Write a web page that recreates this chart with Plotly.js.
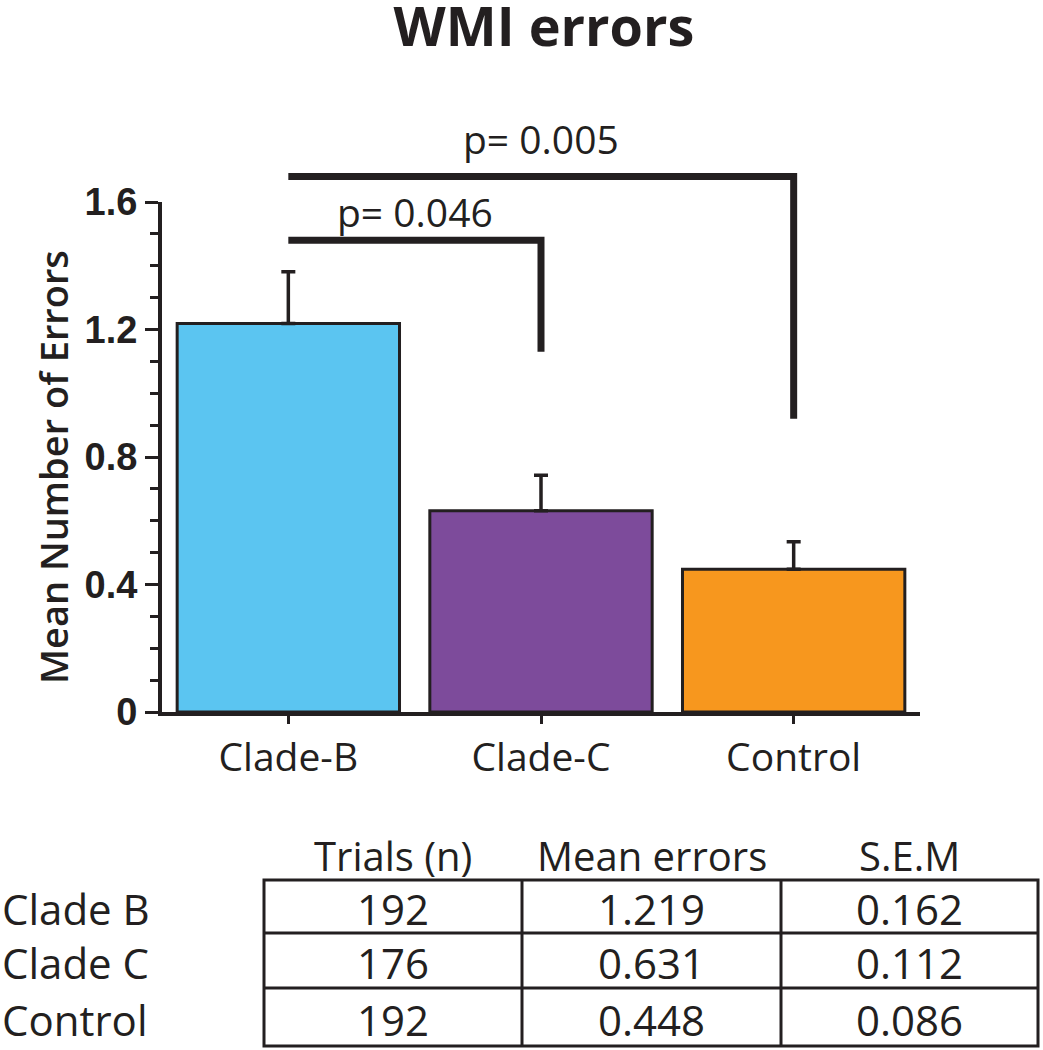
<!DOCTYPE html>
<html>
<head>
<meta charset="utf-8">
<script src="https://cdn.plot.ly/plotly-3.0.1.min.js"></script>
<style>body{margin:0;background:#fff}</style>
</head>
<body>
<div id="wmi" style="width:1043px;height:1050px"></div>
<script>
// groups and the values shown in the table
var groups = ['Clade-B', 'Clade-C', 'Control'];
var rowNames = ['Clade B', 'Clade C', 'Control'];
var trials = [192, 176, 192];
var meanErrors = [1.219, 0.631, 0.448];
var sem = [0.162, 0.112, 0.086];
var colHeads = ['Trials (n)', 'Mean errors', 'S.E.M'];
var barColors = ['#5bc5f1', '#7d4b9b', '#f7971e'];

// significance brackets, from group brA to group brB
var brA = [0, 0];
var brB = [1, 2];
var brTop = [1.48, 1.68];
var brDrop = [1.13, 0.92];
var brLabelY = [1.57, 1.80];
var pVals = ['0.046', '0.005'];

var ink = '#231f20';
var sans = 'Open Sans, sans-serif';

// page geometry (px) -> paper helpers, used for the table under the plot
var W = 1043, H = 1050;
var M = {l: 162, r: 123, t: 202, b: 338, pad: 0};
var plotW = W - M.l - M.r, plotH = H - M.t - M.b;
var yMax = 1.6;
function xp(pix) { return (pix - M.l) / plotW; }
function yp(pix) { return (H - M.b - pix) / plotH; }
function yd(v) { return v / yMax; } // data value -> paper (y range starts at 0)

var trace = {
  type: 'bar',
  x: groups,
  y: meanErrors,
  width: 0.88,
  marker: {color: barColors, line: {color: ink, width: 3}},
  error_y: {
    type: 'data', array: sem, symmetric: false,
    arrayminus: sem.map(function () { return 0; }),
    color: ink, thickness: 3.5, width: 7
  },
  hoverinfo: 'skip'
};

var shapes = [];
var annotations = [];

// brackets + p labels
for (var i = 0; i < pVals.length; i++) {
  shapes.push({
    type: 'path', xref: 'x', yref: 'paper',
    path: 'M' + brA[i] + ',' + yd(brTop[i]) + ' L' + brB[i] + ',' + yd(brTop[i]) +
          ' L' + brB[i] + ',' + yd(brDrop[i]),
    line: {color: ink, width: 7}
  });
  annotations.push({
    xref: 'x', yref: 'paper', x: (brA[i] + brB[i]) / 2, y: yd(brLabelY[i]),
    text: 'p= ' + pVals[i], showarrow: false, xanchor: 'center', yanchor: 'middle',
    font: {family: sans, size: 39, weight: 500, color: ink}
  });
}

// y axis title
annotations.push({
  xref: 'paper', yref: 'paper', x: xp(53), y: yp(467),
  text: 'Mean Number of Errors', textangle: -90, showarrow: false,
  xanchor: 'center', yanchor: 'middle',
  font: {family: sans, size: 38, weight: 600, color: ink}
});

// table
var colEdges = [264, 522, 781, 1038];
var rowEdges = [880, 933, 988, 1046];
var headY = 855;

shapes.push({
  type: 'rect', xref: 'paper', yref: 'paper',
  x0: xp(colEdges[0]), x1: xp(colEdges[3]), y0: yp(rowEdges[0]), y1: yp(rowEdges[3]),
  line: {color: ink, width: 3}
});
for (var c = 1; c < 3; c++) {
  shapes.push({type: 'line', xref: 'paper', yref: 'paper',
    x0: xp(colEdges[c]), x1: xp(colEdges[c]), y0: yp(rowEdges[0]), y1: yp(rowEdges[3]),
    line: {color: ink, width: 3}});
}
for (var r = 1; r < 3; r++) {
  shapes.push({type: 'line', xref: 'paper', yref: 'paper',
    x0: xp(colEdges[0]), x1: xp(colEdges[3]), y0: yp(rowEdges[r]), y1: yp(rowEdges[r]),
    line: {color: ink, width: 3}});
}

var cellText = [
  trials.map(String),
  meanErrors.map(function (v) { return v.toFixed(3); }),
  sem.map(function (v) { return v.toFixed(3); })
];

for (c = 0; c < 3; c++) {
  var cx = xp((colEdges[c] + colEdges[c + 1]) / 2);
  annotations.push({
    xref: 'paper', yref: 'paper', x: cx, y: yp(headY), text: colHeads[c],
    showarrow: false, xanchor: 'center', yanchor: 'middle',
    font: {family: sans, size: 40, weight: 500, color: ink}
  });
  for (r = 0; r < 3; r++) {
    annotations.push({
      xref: 'paper', yref: 'paper', x: cx, y: yp((rowEdges[r] + rowEdges[r + 1]) / 2 + 2),
      text: cellText[c][r], showarrow: false, xanchor: 'center', yanchor: 'middle',
      font: {family: sans, size: 42, weight: 500, color: ink}
    });
  }
}
for (r = 0; r < 3; r++) {
  annotations.push({
    xref: 'paper', yref: 'paper', x: xp(0), y: yp((rowEdges[r] + rowEdges[r + 1]) / 2 + 2),
    text: rowNames[r], showarrow: false, xanchor: 'left', yanchor: 'middle',
    font: {family: sans, size: 42, weight: 500, color: ink}
  });
}

var layout = {
  width: W, height: H,
  margin: M,
  paper_bgcolor: '#fff', plot_bgcolor: '#fff',
  showlegend: false,
  title: {
    text: 'WMI errors', xref: 'container', x: 544 / W, xanchor: 'center',
    yref: 'container', y: 1 - 27 / H, yanchor: 'middle',
    font: {family: sans, size: 54, weight: 700, color: ink}
  },
  xaxis: {
    range: [-0.5, 2.5], showgrid: false, zeroline: false,
    showline: true, linecolor: ink, linewidth: 4,
    ticks: 'outside', ticklen: 8, tickwidth: 3, tickcolor: ink,
    tickfont: {family: sans, size: 39, weight: 500, color: ink}
  },
  yaxis: {
    range: [0, yMax], tick0: 0, dtick: 0.4, showgrid: false, zeroline: false,
    showline: true, linecolor: ink, linewidth: 4,
    ticks: 'outside', ticklen: 13, tickwidth: 3, tickcolor: ink,
    minor: {tick0: 0, dtick: 0.1, ticks: 'outside', ticklen: 8, tickwidth: 3, tickcolor: ink, showgrid: false},
    tickfont: {family: 'Liberation Sans, Arial, sans-serif', size: 38, weight: 700, color: ink}
  },
  shapes: shapes,
  annotations: annotations
};

Plotly.newPlot('wmi', [trace], layout, {displayModeBar: false, staticPlot: true});
</script>
</body>
</html>
